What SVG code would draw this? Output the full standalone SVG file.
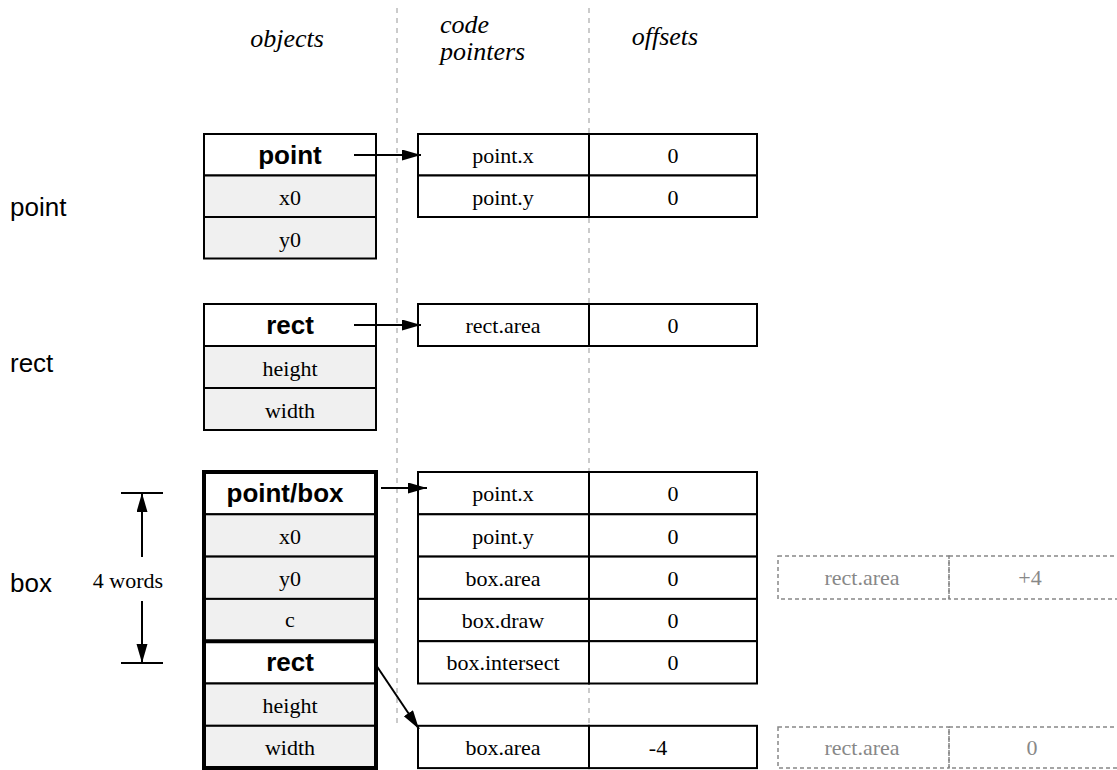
<svg xmlns="http://www.w3.org/2000/svg" width="1117" height="770" viewBox="0 0 1117 770">
<style>
.guide{stroke:#bbbbbb;stroke-width:1.5;stroke-dasharray:5,5;fill:none}
.cell{fill:#ffffff;stroke:#000;stroke-width:2}
.field{fill:#f0f0f0;stroke:#000;stroke-width:2}
.ghost{fill:none;stroke:#888;stroke-width:1.5;stroke-dasharray:4,3}
.t{font-family:"Liberation Serif","Times New Roman",serif;font-size:22px;fill:#000;text-anchor:middle}
.g{font-family:"Liberation Serif","Times New Roman",serif;font-size:22px;fill:#888;text-anchor:middle}
.h{font-family:"Liberation Sans",Arial,sans-serif;font-size:26px;font-weight:bold;fill:#000;text-anchor:middle}
.lab{font-family:"Liberation Sans",Arial,sans-serif;font-size:26px;fill:#000}
.title{font-family:"Liberation Serif","Times New Roman",serif;font-size:26px;font-style:italic;fill:#000}
.conn{stroke:#000;stroke-width:2;fill:none}
</style>
<defs>
<marker id="ah" markerWidth="20" markerHeight="12" refX="19" refY="5.5" orient="auto" markerUnits="userSpaceOnUse">
<path d="M0,0 L19,5.5 L0,11 Z" fill="#000"/>
</marker>
</defs>

<g id="guides">
<line class="guide" x1="397" y1="8" x2="397" y2="727"/>
<line class="guide" x1="589" y1="8" x2="589" y2="727"/>
</g>

<g id="titles">
<text class="title" x="287" y="47" text-anchor="middle">objects</text>
<text class="title" x="440" y="33">code</text>
<text class="title" x="440" y="60">pointers</text>
<text class="title" x="665" y="45" text-anchor="middle">offsets</text>
</g>

<g id="labels">
<text class="lab" x="10" y="216">point</text>
<text class="lab" x="10" y="372">rect</text>
<text class="lab" x="10" y="592">box</text>
</g>

<g id="obj-point">
<rect class="cell" x="204" y="134" width="172" height="41.5"/>
<rect class="field" x="204" y="175.5" width="172" height="41.5"/>
<rect class="field" x="204" y="217" width="172" height="41.5"/>
<text class="h" x="290" y="164">point</text>
<text class="t" x="290" y="205">x0</text>
<text class="t" x="290" y="247">y0</text>
</g>

<g id="vt-point">
<rect class="cell" x="418" y="134" width="171" height="41.5"/>
<rect class="cell" x="589" y="134" width="168" height="41.5"/>
<rect class="cell" x="418" y="175.5" width="171" height="41.5"/>
<rect class="cell" x="589" y="175.5" width="168" height="41.5"/>
<text class="t" x="503" y="163">point.x</text>
<text class="t" x="673" y="163">0</text>
<text class="t" x="503" y="205">point.y</text>
<text class="t" x="673" y="205">0</text>
</g>

<g id="obj-rect">
<rect class="cell" x="204" y="304" width="172" height="42"/>
<rect class="field" x="204" y="346" width="172" height="42"/>
<rect class="field" x="204" y="388" width="172" height="42"/>
<text class="h" x="290" y="334">rect</text>
<text class="t" x="290" y="376">height</text>
<text class="t" x="290" y="418">width</text>
</g>

<g id="vt-rect">
<rect class="cell" x="418" y="304" width="171" height="42"/>
<rect class="cell" x="589" y="304" width="168" height="42"/>
<text class="t" x="503" y="333">rect.area</text>
<text class="t" x="673" y="333">0</text>
</g>

<g id="obj-box">
<rect class="cell" x="204" y="472" width="172" height="42.3"/>
<rect class="field" x="204" y="514.3" width="172" height="42.3"/>
<rect class="field" x="204" y="556.6" width="172" height="42.3"/>
<rect class="field" x="204" y="598.9" width="172" height="42.3"/>
<rect class="cell" x="204" y="641.2" width="172" height="42.3"/>
<rect class="field" x="204" y="683.5" width="172" height="42.3"/>
<rect class="field" x="204" y="725.8" width="172" height="42.3"/>
<rect x="204" y="472" width="172" height="296" fill="none" stroke="#000" stroke-width="4"/>
<line x1="204" y1="641.2" x2="376" y2="641.2" stroke="#000" stroke-width="4"/>
<text class="h" x="285" y="502">point/box</text>
<text class="t" x="290" y="544">x0</text>
<text class="t" x="290" y="586">y0</text>
<text class="t" x="290" y="627">c</text>
<text class="h" x="290" y="671">rect</text>
<text class="t" x="290" y="713">height</text>
<text class="t" x="290" y="755">width</text>
</g>

<g id="vt-box">
<rect class="cell" x="418" y="472" width="171" height="42.3"/>
<rect class="cell" x="589" y="472" width="168" height="42.3"/>
<rect class="cell" x="418" y="514.3" width="171" height="42.3"/>
<rect class="cell" x="589" y="514.3" width="168" height="42.3"/>
<rect class="cell" x="418" y="556.6" width="171" height="42.3"/>
<rect class="cell" x="589" y="556.6" width="168" height="42.3"/>
<rect class="cell" x="418" y="598.9" width="171" height="42.3"/>
<rect class="cell" x="589" y="598.9" width="168" height="42.3"/>
<rect class="cell" x="418" y="641.2" width="171" height="42.3"/>
<rect class="cell" x="589" y="641.2" width="168" height="42.3"/>
<text class="t" x="503" y="501">point.x</text>
<text class="t" x="673" y="501">0</text>
<text class="t" x="503" y="544">point.y</text>
<text class="t" x="673" y="544">0</text>
<text class="t" x="503" y="586">box.area</text>
<text class="t" x="673" y="586">0</text>
<text class="t" x="503" y="628">box.draw</text>
<text class="t" x="673" y="628">0</text>
<text class="t" x="503" y="670">box.intersect</text>
<text class="t" x="673" y="670">0</text>
</g>

<g id="vt-box-rect">
<rect class="cell" x="418" y="725.8" width="171" height="42.3"/>
<rect class="cell" x="589" y="725.8" width="168" height="42.3"/>
<text class="t" x="503" y="755">box.area</text>
<text class="t" x="658" y="755">-4</text>
</g>

<g id="ghost-1">
<rect class="ghost" x="778" y="556" width="171" height="43"/>
<rect class="ghost" x="949" y="556" width="172" height="43"/>
<text class="g" x="862" y="585">rect.area</text>
<text class="g" x="1030" y="585">+4</text>
</g>

<g id="ghost-2">
<rect class="ghost" x="778" y="727" width="171" height="41"/>
<rect class="ghost" x="949" y="727" width="172" height="41"/>
<text class="g" x="862" y="755">rect.area</text>
<text class="g" x="1032" y="755">0</text>
</g>

<g id="dimension">
<line class="conn" x1="121" y1="493" x2="163" y2="493"/>
<line class="conn" x1="121" y1="663" x2="163" y2="663"/>
<line class="conn" x1="142" y1="557" x2="142" y2="493" marker-end="url(#ah)"/>
<line class="conn" x1="142" y1="601" x2="142" y2="663" marker-end="url(#ah)"/>
<text class="t" x="128" y="588">4 words</text>
</g>

<g id="connectors">
<line class="conn" x1="354" y1="155" x2="421" y2="155" marker-end="url(#ah)"/>
<line class="conn" x1="354" y1="325" x2="421" y2="325" marker-end="url(#ah)"/>
<line class="conn" x1="381" y1="488" x2="427" y2="488" marker-end="url(#ah)"/>
<line class="conn" x1="376" y1="665" x2="419" y2="729" marker-end="url(#ah)"/>
</g>
</svg>
